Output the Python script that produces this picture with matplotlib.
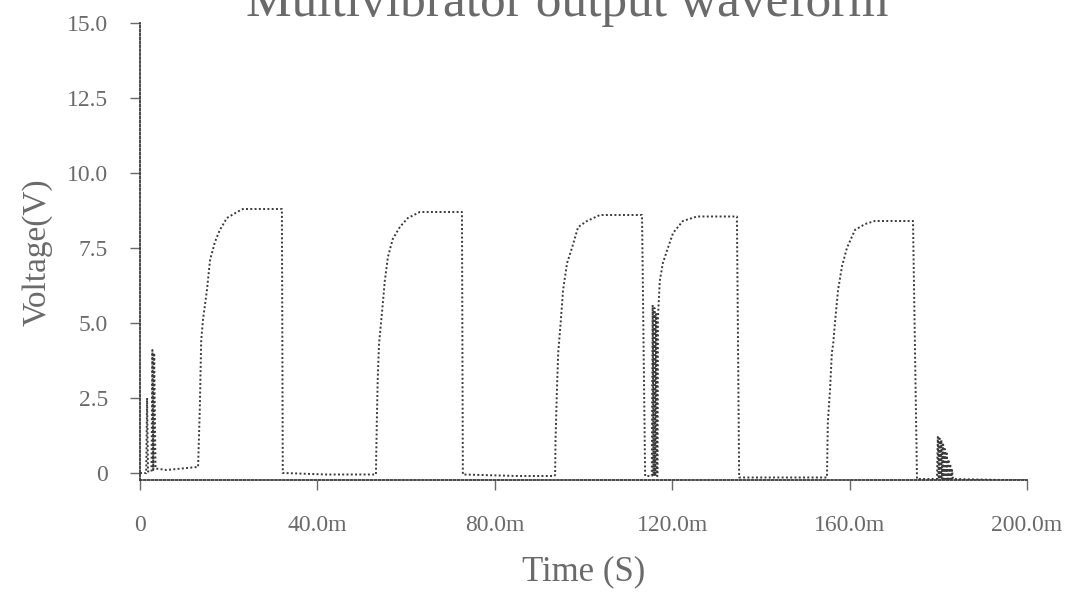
import matplotlib
matplotlib.use("Agg")
import matplotlib.pyplot as plt
import numpy as np

# waveform, time in ms, voltage in V
start_t = [0.0, 1.4, 1.6, 1.8, 2.6, 2.8, 3.0, 3.2, 3.5, 6.0, 12.9]
start_v = [0.0, 0.0, 2.5, 0.05, 0.05, 4.1, 0.1, 4.0, 0.15, 0.1, 0.2]

pulse1_t = [13.1, 13.5, 13.8, 14.2, 15.1, 15.8, 16.9, 18.0, 19.6, 21.9, 23.2, 32.0, 32.2]
pulse1_v = [0.2, 2.2, 4.4, 5.1, 6.1, 7.1, 7.7, 8.1, 8.5, 8.7, 8.8, 8.8, 0.0]

low1_t = [32.4, 42.0, 53.0]
low1_v = [0.0, -0.05, -0.05]

pulse2_t = [53.2, 53.4, 53.6, 53.9, 54.6, 55.2, 55.9, 57.0, 58.6, 60.4, 63.1, 72.6, 72.8]
pulse2_v = [-0.05, 1.7, 3.1, 4.3, 5.4, 6.4, 7.2, 7.8, 8.2, 8.5, 8.7, 8.7, -0.05]

low2_t = [73.0, 85.0, 93.4]
low2_v = [-0.05, -0.1, -0.1]

pulse3_t = [93.6, 93.7, 94.0, 94.3, 94.9, 95.4, 96.3, 97.4, 98.8, 100.8, 103.7, 113.2, 113.9]
pulse3_v = [-0.07, 1.1, 2.7, 4.0, 5.1, 6.1, 7.0, 7.5, 8.2, 8.4, 8.6, 8.6, -0.1]

burst1_t = [114.2, 115.4, 115.6, 115.8, 116.0, 116.2, 116.4, 116.6]
burst1_v = [-0.1, -0.1, 5.6, -0.1, 5.5, -0.1, 5.3, -0.1]

pulse4_t = [116.7, 116.8, 117.2, 117.9, 118.8, 120.2, 122.4, 125.6, 134.6, 135.1]
pulse4_v = [-0.1, 5.2, 6.4, 7.0, 7.4, 8.0, 8.4, 8.55, 8.55, -0.15]

low3_t = [135.3, 145.0, 154.8]
low3_v = [-0.15, -0.15, -0.15]

pulse5_t = [154.9, 155.1, 155.6, 156.0, 156.3, 156.7, 157.4, 158.3, 159.4, 161.2, 163.5, 165.7, 174.3, 175.2]
pulse5_v = [-0.15, 1.7, 2.8, 4.0, 4.3, 5.0, 6.1, 6.9, 7.5, 8.1, 8.3, 8.4, 8.4, -0.2]

low4_t = [175.4, 179.7]
low4_v = [-0.2, -0.2]

burst2_t = [179.9, 180.1, 180.3, 180.5, 180.7, 180.9, 181.1, 181.3, 181.5,
            181.7, 181.9, 182.1, 182.3, 182.5, 182.7, 182.9, 183.1]
burst2_v = [1.2, -0.2, 1.15, -0.2, 1.1, -0.2, 0.95, -0.2, 0.8,
            -0.2, 0.65, -0.2, 0.45, -0.2, 0.3, -0.2, 0.1]

end_t = [183.3, 200.0]
end_v = [-0.2, -0.25]

x_ticks = [0, 40, 80, 120, 160, 200]
x_labels = ["0", "40.0m", "80.0m", "120.0m", "160.0m", "200.0m"]
y_ticks = [0, 2.5, 5.0, 7.5, 10.0, 12.5, 15.0]
y_labels = ["0", "2.5", "5.0", "7.5", "10.0", "12.5", "15.0"]

t = np.concatenate([start_t, pulse1_t, low1_t, pulse2_t, low2_t, pulse3_t, burst1_t,
                    pulse4_t, low3_t, pulse5_t, low4_t, burst2_t, end_t])
v = np.concatenate([start_v, pulse1_v, low1_v, pulse2_v, low2_v, pulse3_v, burst1_v,
                    pulse4_v, low3_v, pulse5_v, low4_v, burst2_v, end_v])

plt.rcParams['font.family'] = ['Liberation Serif', 'DejaVu Serif']
ink = '#3a3a3a'
txt = '#6a6a6a'

fig = plt.figure(figsize=(10.71, 5.96), dpi=100)
ax = fig.add_axes([0.1307, 0.1938, 0.8282, 0.7676])

ax.plot(t, v, color=ink, lw=1.4, linestyle=(0, (1, 1.2)))

ax.set_xlim(0, 200)
ax.set_ylim(-0.25, 15.0)

ax.set_xticks(x_ticks)
ax.set_xticklabels(x_labels)
ax.set_yticks(y_ticks)
ax.set_yticklabels(y_labels)

for s in ['top', 'right']:
    ax.spines[s].set_visible(False)
for s in ['left', 'bottom']:
    ax.spines[s].set_color(ink)
    ax.spines[s].set_linewidth(1.3)
    ax.spines[s].set_linestyle((0, (1, 1.2)))

ax.tick_params(axis='y', direction='out', length=7, width=1, color=txt,
               pad=16, labelsize=17, labelcolor=txt)
ax.tick_params(axis='x', direction='out', length=7, width=1, color=txt,
               pad=18, labelsize=17, labelcolor=txt)

ax.set_xlabel("Time (S)", fontsize=25, color=txt, labelpad=14)
ax.set_ylabel("Voltage(V)", fontsize=24, color=txt, labelpad=10)

fig.text(0.53, 0.973, "Multivibrator output waveform", ha='center', va='baseline',
         fontsize=37, color=txt)

fig.savefig("out.png", dpi=100, facecolor='white')
